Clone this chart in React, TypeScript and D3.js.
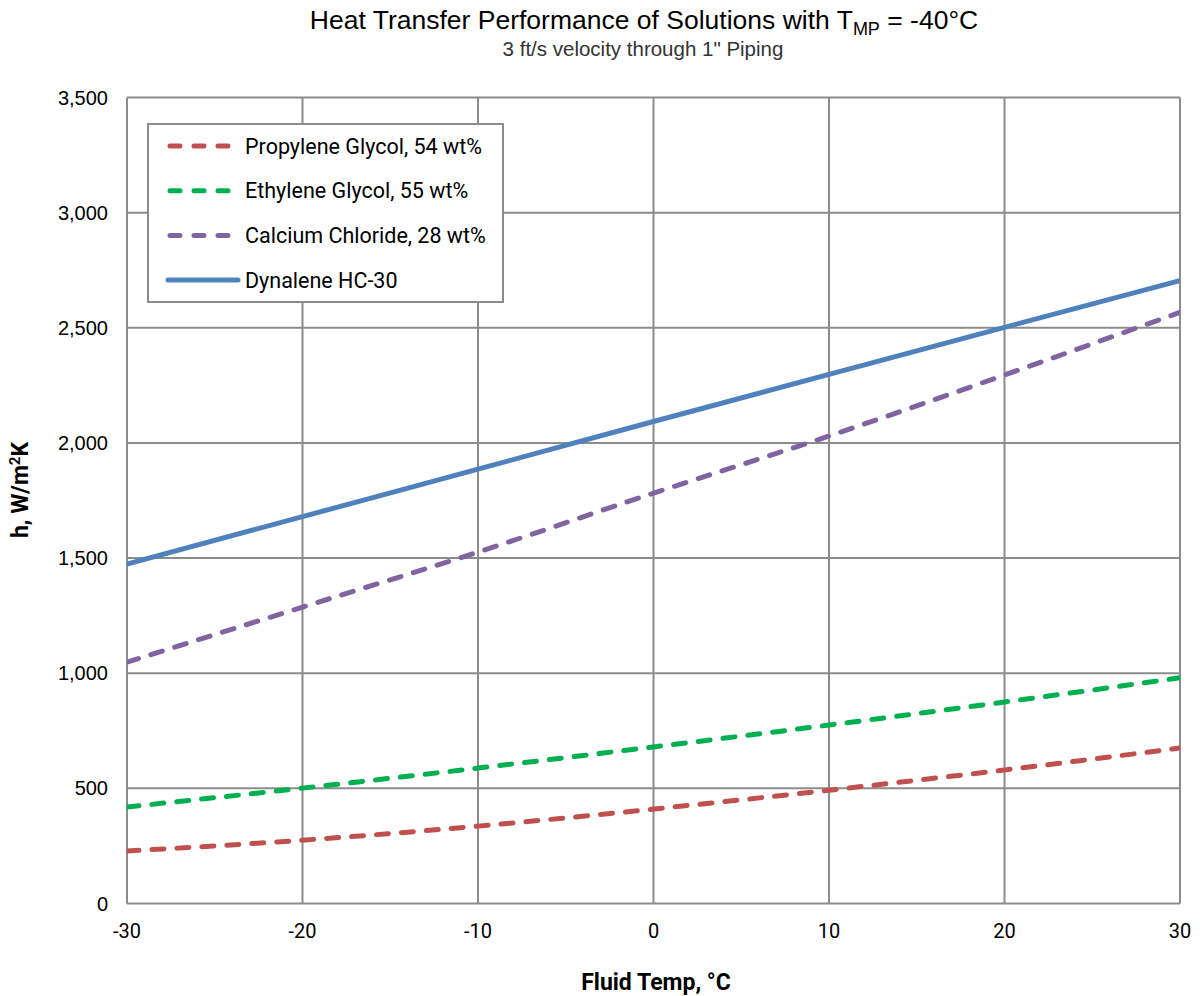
import React from "react";
import * as d3 from "d3";

const temps = [-30, -20, -10, 0, 10, 20, 30];
const propyleneGlycol = [228, 275, 336, 410, 492, 580, 675];
const ethyleneGlycol = [419, 501, 588, 680, 775, 875, 980];
const calciumChloride = [1048, 1287, 1526, 1782, 2030, 2295, 2567];
const dynalene = [1474, 1680, 1886, 2093, 2298, 2502, 2705];

const xTicks = [-30, -20, -10, 0, 10, 20, 30];
const yTicks = [0, 500, 1000, 1500, 2000, 2500, 3000, 3500];

const seriesNames = [
  "Propylene Glycol, 54 wt%",
  "Ethylene Glycol, 55 wt%",
  "Calcium Chloride, 28 wt%",
  "Dynalene HC-30",
];
const seriesValues = [propyleneGlycol, ethyleneGlycol, calciumChloride, dynalene];
const seriesColors = ["#C0504D", "#00B050", "#8064A2", "#4F81BD"];
const seriesDashed = [true, true, true, false];

export default function App() {
  const W = 1200, H = 996;
  const L = 127, R = 1180, T = 97.5, B = 903.5;
  const x = d3.scaleLinear().domain([-30, 30]).range([L, R]);
  const y = d3.scaleLinear().domain([0, 3500]).range([B, T]);
  const line = d3
    .line<number>()
    .x((_, i) => x(temps[i]))
    .y((d) => y(d))
    .curve(d3.curveMonotoneX);
  const fmt = d3.format(",");
  const font = "Roboto, 'Liberation Sans', sans-serif";
  const hfont = "'Liberation Sans', Arial, sans-serif";
  const grid = "#8c8c8c";

  return (
    <svg width={W} height={H} style={{ position: "absolute", left: 0, top: 0 }}>
      <rect x={0} y={0} width={W} height={H} fill="#fff" />
      <defs>
        <clipPath id="plot">
          <rect x={L} y={T} width={R - L} height={B - T} />
        </clipPath>
      </defs>
      {yTicks.map((t) => (
        <line key={"gy" + t} x1={L} x2={R} y1={y(t)} y2={y(t)} stroke={grid} strokeWidth={2} />
      ))}
      {xTicks.map((t) => (
        <line key={"gx" + t} x1={x(t)} x2={x(t)} y1={T} y2={B} stroke={grid} strokeWidth={2} />
      ))}
      {yTicks.map((t) => (
        <text key={"ty" + t} x={108} y={y(t) + 7} textAnchor="end" fontFamily={hfont} fontSize={20} fill="#000">
          {fmt(t)}
        </text>
      ))}
      {xTicks.map((t) => (
        <text key={"tx" + t} x={x(t)} y={938} textAnchor="middle" fontFamily={font} fontSize={20} fill="#000">
          {t}
        </text>
      ))}
      <g clipPath="url(#plot)">
        {seriesValues.map((vals, i) => (
          <path
            key={"s" + i}
            d={line(vals) || ""}
            fill="none"
            stroke={seriesColors[i]}
            strokeWidth={5}
            strokeLinecap={seriesDashed[i] ? "round" : "butt"}
            strokeDasharray={seriesDashed[i] ? "12 13" : undefined}
          />
        ))}
      </g>
      <rect x={148} y={124} width={355} height={178} fill="#fff" stroke={grid} strokeWidth={2} />
      {seriesNames.map((n, i) => {
        const ly = 146 + i * 44.7;
        return (
          <g key={"l" + i}>
            <line
              x1={seriesDashed[i] ? 170 : 168}
              x2={seriesDashed[i] ? 234 : 238}
              y1={ly}
              y2={ly}
              stroke={seriesColors[i]}
              strokeWidth={5}
              strokeLinecap="round"
              strokeDasharray={seriesDashed[i] ? "10 14" : undefined}
            />
            <text x={245} y={ly + 7.5} fontFamily={font} fontSize={21.5} fill="#000">
              {n}
            </text>
          </g>
        );
      })}
      <text x={644} y={29} textAnchor="middle" fontFamily={hfont} fontSize={26.5} fill="#000">
        Heat Transfer Performance of Solutions with T
        <tspan fontSize={18} dy={6}>MP</tspan>
        <tspan dy={-6}> = -40°C</tspan>
      </text>
      <text x={643} y={56} textAnchor="middle" fontFamily={hfont} fontSize={20.5} fill="#333">
        3 ft/s velocity through 1" Piping
      </text>
      <text x={656} y={990} textAnchor="middle" fontFamily={font} fontWeight="bold" fontSize={23} fill="#000">
        Fluid Temp, °C
      </text>
      <text
        transform={`translate(28, 490) rotate(-90)`}
        textAnchor="middle"
        fontFamily={font}
        fontWeight="bold"
        fontSize={23}
        fill="#000"
      >
        h, W/m
        <tspan fontSize={15} dy={-8}>2</tspan>
        <tspan dy={8}>K</tspan>
      </text>
    </svg>
  );
}
